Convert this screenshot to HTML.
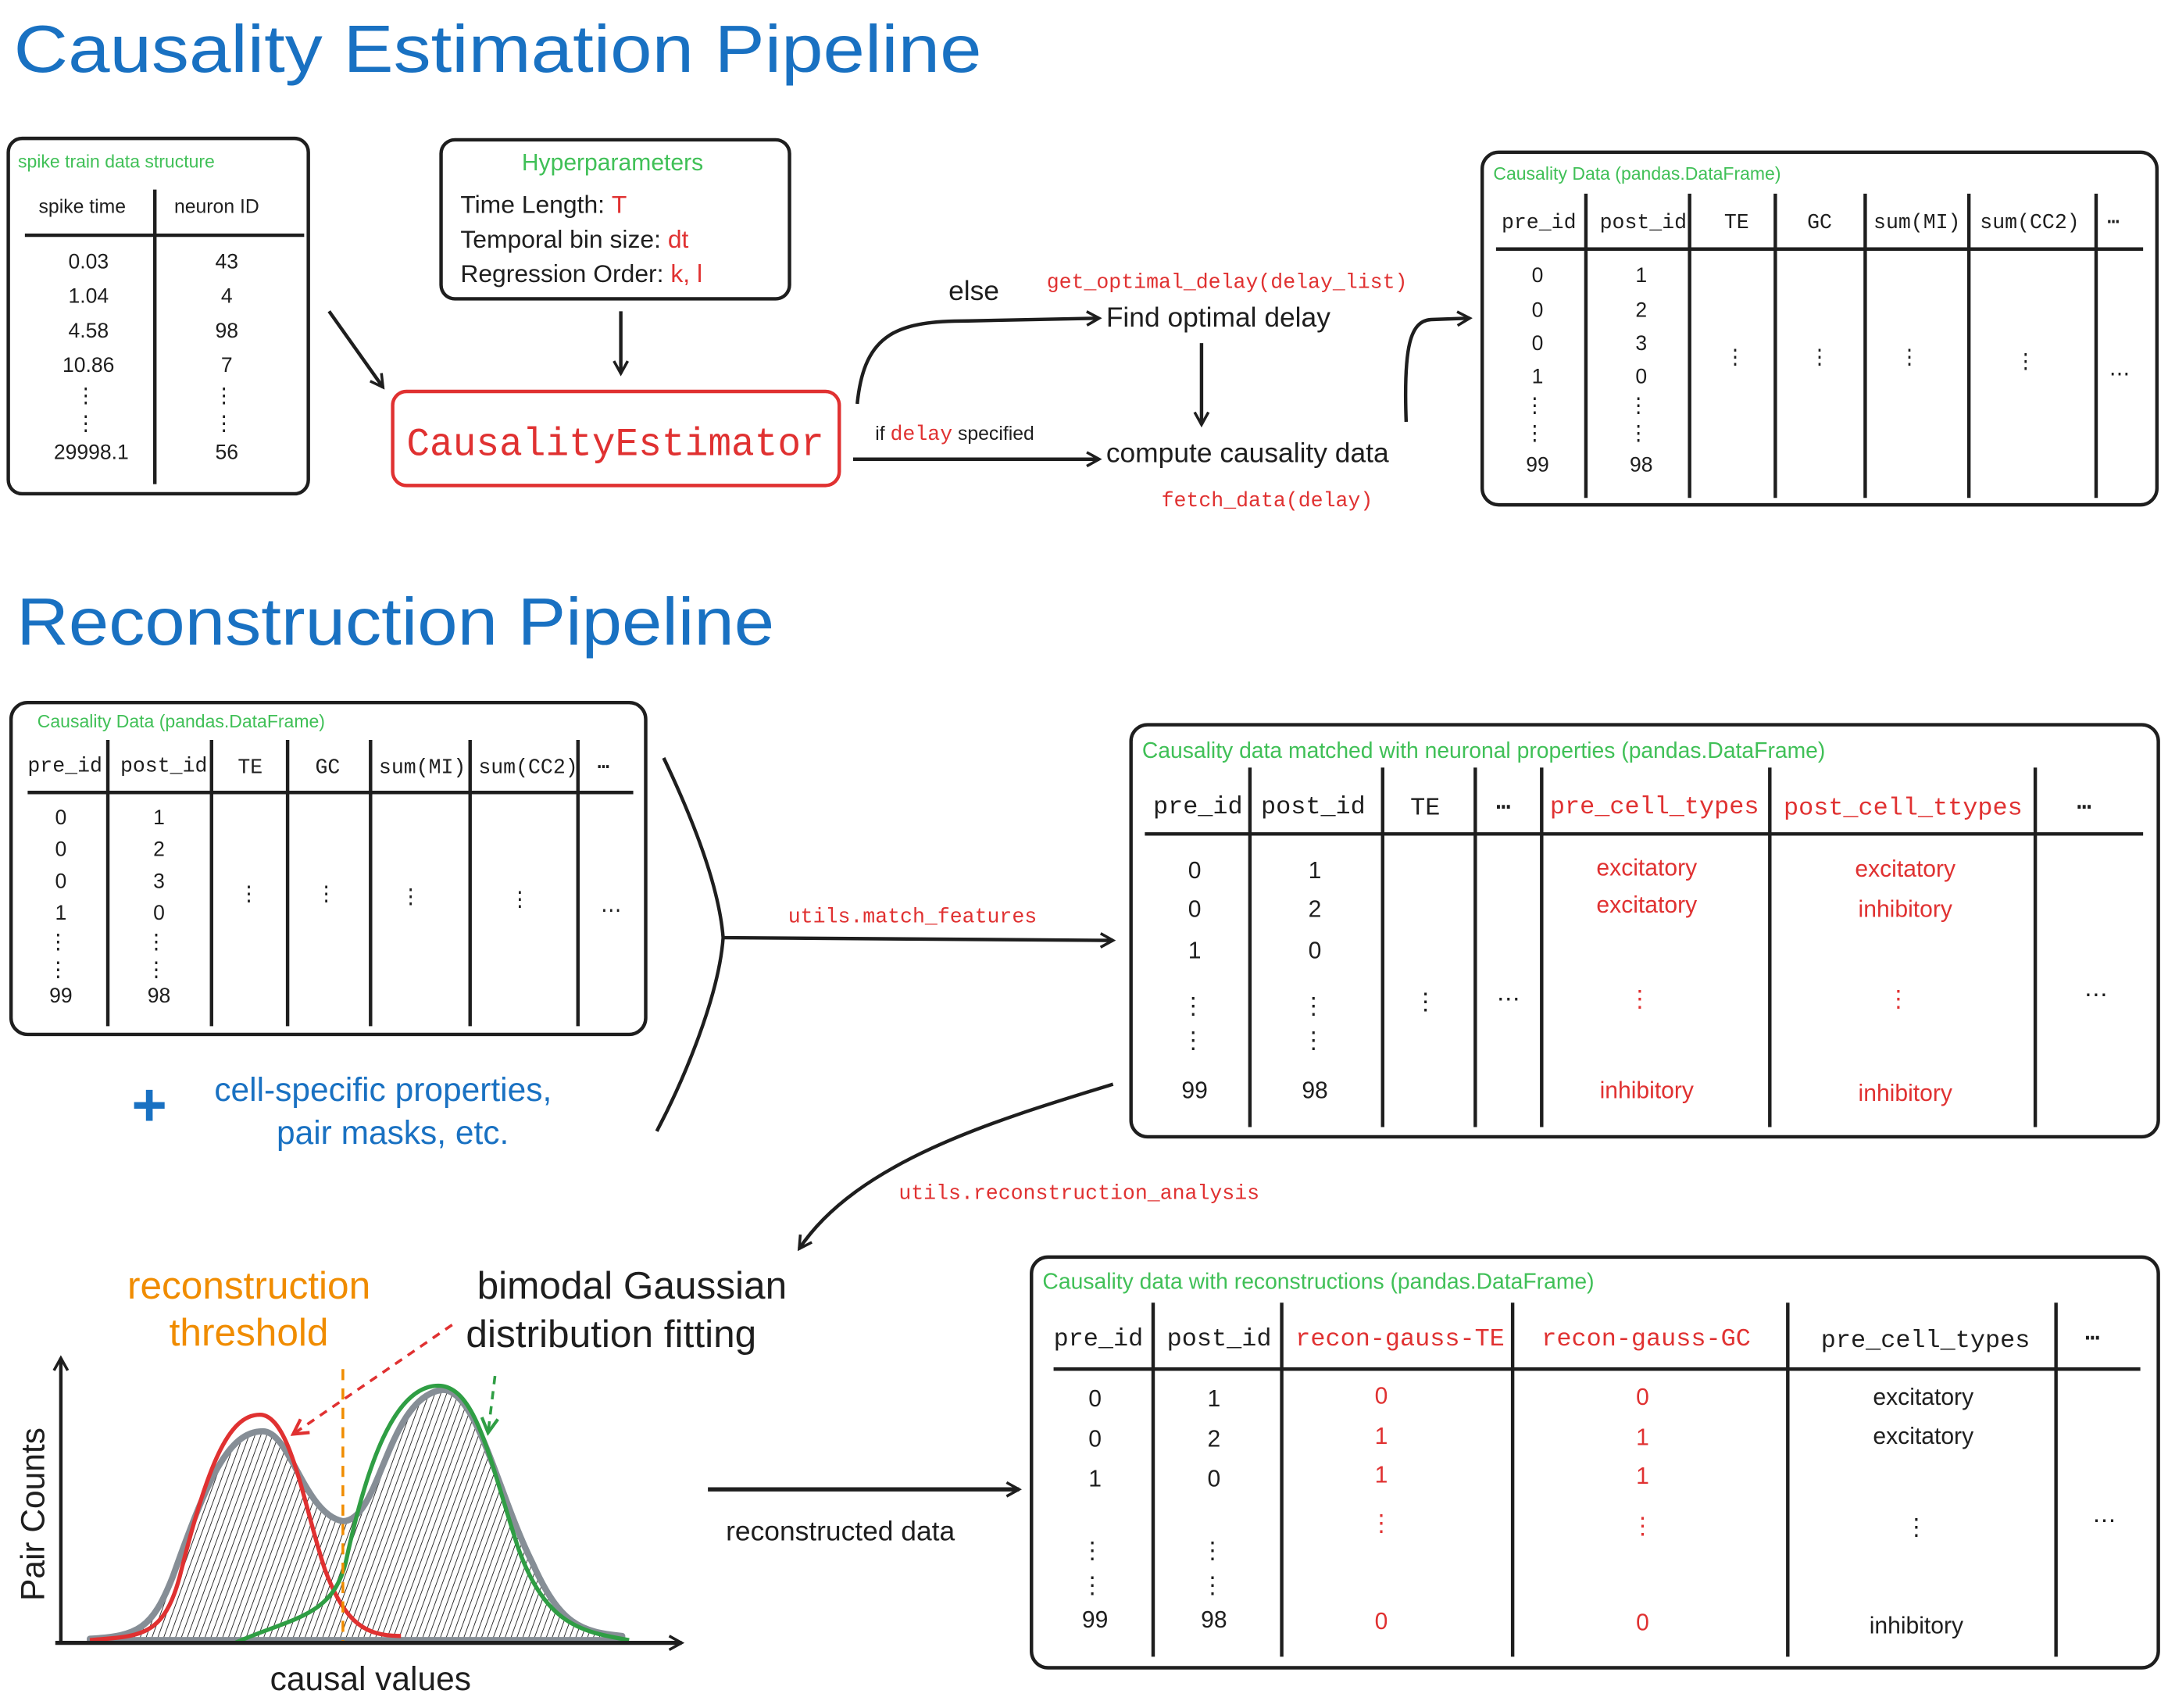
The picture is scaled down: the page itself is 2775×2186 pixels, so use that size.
<!DOCTYPE html>
<html><head><meta charset="utf-8"><style>
html,body{margin:0;padding:0;background:#fff}
svg{display:block}
.h{font-family:"Liberation Sans",sans-serif}
.m{font-family:"Liberation Mono",monospace}
</style></head><body>
<svg width="2775" height="2186" viewBox="0 0 1568 1235" xmlns="http://www.w3.org/2000/svg">
<defs>
<marker id="ar" viewBox="0 0 12 12" refX="10" refY="6" markerWidth="12" markerHeight="12" markerUnits="userSpaceOnUse" orient="auto"><path d="M1,1 L10,6 L1,11" fill="none" stroke="#1e1e1e" stroke-width="2"/></marker>
<marker id="arR" viewBox="0 0 12 12" refX="10" refY="6" markerWidth="14" markerHeight="14" markerUnits="userSpaceOnUse" orient="auto"><path d="M1,1 L10,6 L1,11" fill="none" stroke="#e03131" stroke-width="2"/></marker>
<marker id="arG" viewBox="0 0 12 12" refX="10" refY="6" markerWidth="14" markerHeight="14" markerUnits="userSpaceOnUse" orient="auto"><path d="M1,1 L10,6 L1,11" fill="none" stroke="#2f9e44" stroke-width="2"/></marker>
<pattern id="hatch" width="4" height="4" patternUnits="userSpaceOnUse" patternTransform="rotate(20)"><line x1="0" y1="0" x2="0" y2="4" stroke="#1e1e1e" stroke-width="1"/></pattern>
</defs>
<g fill="#1e1e1e" stroke="none">
<text class="h" x="10" y="52" font-size="48" fill="#1971c2" textLength="700" lengthAdjust="spacingAndGlyphs">Causality Estimation Pipeline</text>
<text class="h" x="12" y="466" font-size="48" fill="#1971c2" textLength="548" lengthAdjust="spacingAndGlyphs">Reconstruction Pipeline</text>
</g>

<g fill="none" stroke="#1e1e1e" stroke-width="2.5">
<rect x="6" y="100" width="217" height="257" rx="10"/>
<line x1="18" y1="170" x2="220" y2="170"/>
<line x1="112" y1="137" x2="112" y2="350"/>
</g>
<g class="h" fill="#1e1e1e">
<text x="13" y="121" font-size="13" fill="#40c057">spike train data structure</text>
<text x="28" y="154" font-size="14">spike time</text>
<text x="126" y="154" font-size="14">neuron ID</text>
<g font-size="15" text-anchor="middle">
<text x="64" y="194">0.03</text><text x="164" y="194">43</text>
<text x="64" y="219">1.04</text><text x="164" y="219">4</text>
<text x="64" y="244">4.58</text><text x="164" y="244">98</text>
<text x="64" y="269">10.86</text><text x="164" y="269">7</text>
<text x="62" y="291">⋮</text><text x="162" y="291">⋮</text>
<text x="62" y="311">⋮</text><text x="162" y="311">⋮</text>
<text x="66" y="332">29998.1</text><text x="164" y="332">56</text>
</g>
</g>

<rect x="319" y="101" width="252" height="115" rx="10" fill="none" stroke="#1e1e1e" stroke-width="2.5"/>
<g class="h" fill="#1e1e1e" font-size="18">
<text x="443" y="123" font-size="17" text-anchor="middle" fill="#40c057">Hyperparameters</text>
<text x="333" y="154">Time Length: <tspan fill="#e03131">T</tspan></text>
<text x="333" y="179">Temporal bin size: <tspan fill="#e03131">dt</tspan></text>
<text x="333" y="204">Regression Order: <tspan fill="#e03131">k, l</tspan></text>
</g>
<g fill="none" stroke="#1e1e1e" stroke-width="2.5">
<line x1="449" y1="225" x2="449" y2="270" marker-end="url(#ar)"/>
<line x1="238" y1="225" x2="277" y2="280" marker-end="url(#ar)"/>
<path d="M620,292 C625,240 650,232 700,232 L795,230" marker-end="url(#ar)"/>
<line x1="869" y1="248" x2="869" y2="307" marker-end="url(#ar)"/>
<line x1="617" y1="332" x2="795" y2="332" marker-end="url(#ar)"/>
<path d="M1017,305 C1015,250 1020,232 1035,231 L1063,230" marker-end="url(#ar)"/>
</g>
<rect x="284" y="283" width="323" height="68" rx="10" fill="none" stroke="#e03131" stroke-width="2.5"/>
<text class="m" x="445" y="329" font-size="29" text-anchor="middle" fill="#e03131" textLength="302" lengthAdjust="spacingAndGlyphs">CausalityEstimator</text>
<g class="h" fill="#1e1e1e">
<text x="686" y="217" font-size="20">else</text>
<text class="m" x="757" y="208" font-size="15" fill="#e03131">get_optimal_delay(delay_list)</text>
<text x="800" y="236" font-size="20">Find optimal delay</text>
<text x="633" y="318" font-size="14">if <tspan class="m" fill="#e03131" font-size="15">delay</tspan> specified</text>
<text x="800" y="334" font-size="20">compute causality data</text>
<text class="m" x="840" y="366" font-size="15" fill="#e03131">fetch_data(delay)</text>
</g>

<g fill="none" stroke="#1e1e1e" stroke-width="2.5">
<rect x="1072" y="110" width="488" height="255" rx="12"/>
<line x1="1082" y1="180" x2="1550" y2="180"/>
<line x1="1147" y1="140" x2="1147" y2="360"/><line x1="1222" y1="140" x2="1222" y2="360"/>
<line x1="1284" y1="140" x2="1284" y2="360"/><line x1="1349" y1="140" x2="1349" y2="360"/>
<line x1="1424" y1="140" x2="1424" y2="360"/><line x1="1516" y1="140" x2="1516" y2="360"/>
</g>
<g class="h" fill="#1e1e1e">
<text x="1080" y="130" font-size="13" fill="#40c057">Causality Data (pandas.DataFrame)</text>
<g class="m" font-size="15"><text x="1086" y="165">pre_id</text><text x="1157" y="165">post_id</text><text x="1247" y="165">TE</text><text x="1307" y="165">GC</text><text x="1355" y="165">sum(MI)</text><text x="1432" y="165">sum(CC2)</text><text x="1524" y="165">⋯</text></g>
<g font-size="15" text-anchor="middle">
<text x="1112" y="204">0</text><text x="1112" y="229">0</text><text x="1112" y="253">0</text><text x="1112" y="277">1</text><text x="1110" y="298">⋮</text><text x="1110" y="318">⋮</text><text x="1112" y="341">99</text>
<text x="1187" y="204">1</text><text x="1187" y="229">2</text><text x="1187" y="253">3</text><text x="1187" y="277">0</text><text x="1185" y="298">⋮</text><text x="1185" y="318">⋮</text><text x="1187" y="341">98</text>
<text x="1255" y="263">⋮</text><text x="1316" y="263">⋮</text><text x="1381" y="263">⋮</text><text x="1465" y="266">⋮</text><text x="1533" y="275">⋯</text>
</g>
</g>

<g fill="none" stroke="#1e1e1e" stroke-width="2.5">
<rect x="8" y="508" width="459" height="240" rx="12"/>
<line x1="20" y1="573" x2="458" y2="573"/>
<line x1="78" y1="535" x2="78" y2="742"/><line x1="153" y1="535" x2="153" y2="742"/>
<line x1="208" y1="535" x2="208" y2="742"/><line x1="268" y1="535" x2="268" y2="742"/>
<line x1="340" y1="535" x2="340" y2="742"/><line x1="418" y1="535" x2="418" y2="742"/>
<path d="M480,548 C500,590 520,640 523,678 C520,720 495,780 475,818"/>
<line x1="523" y1="678" x2="805" y2="680" marker-end="url(#ar)"/>
</g>
<g class="h" fill="#1e1e1e">
<text x="27" y="526" font-size="13" fill="#40c057">Causality Data (pandas.DataFrame)</text>
<g class="m" font-size="15"><text x="20" y="558">pre_id</text><text x="87" y="558">post_id</text><text x="172" y="559">TE</text><text x="228" y="559">GC</text><text x="274" y="559">sum(MI)</text><text x="346" y="559">sum(CC2)</text><text x="432" y="559">⋯</text></g>
<g font-size="15" text-anchor="middle">
<text x="44" y="596">0</text><text x="44" y="619">0</text><text x="44" y="642">0</text><text x="44" y="665">1</text><text x="42" y="686">⋮</text><text x="42" y="706">⋮</text><text x="44" y="725">99</text>
<text x="115" y="596">1</text><text x="115" y="619">2</text><text x="115" y="642">3</text><text x="115" y="665">0</text><text x="113" y="686">⋮</text><text x="113" y="706">⋮</text><text x="115" y="725">98</text>
<text x="180" y="651">⋮</text><text x="236" y="651">⋮</text><text x="297" y="653">⋮</text><text x="376" y="655">⋮</text><text x="442" y="663">⋯</text>
</g>
<text class="m" x="570" y="667" font-size="15" fill="#e03131">utils.match_features</text>
<text x="108" y="814" font-size="44" fill="#1971c2" text-anchor="middle" font-weight="bold">+</text>
<text x="155" y="796" font-size="24" fill="#1971c2">cell-specific properties,</text>
<text x="200" y="827" font-size="24" fill="#1971c2">pair masks, etc.</text>
</g>

<g fill="none" stroke="#1e1e1e" stroke-width="2.5">
<rect x="818" y="524" width="743" height="298" rx="12"/>
<line x1="828" y1="603" x2="1550" y2="603"/>
<line x1="904" y1="555" x2="904" y2="815"/><line x1="1000" y1="555" x2="1000" y2="815"/>
<line x1="1067" y1="555" x2="1067" y2="815"/><line x1="1115" y1="555" x2="1115" y2="815"/>
<line x1="1280" y1="555" x2="1280" y2="815"/><line x1="1472" y1="555" x2="1472" y2="815"/>
<path d="M805,784 C720,810 620,840 578,903" marker-end="url(#ar)"/>
</g>
<g class="h" fill="#1e1e1e">
<text x="826" y="548" font-size="16" fill="#40c057">Causality data matched with neuronal properties (pandas.DataFrame)</text>
<g class="m" font-size="18"><text x="834" y="588">pre_id</text><text x="912" y="588">post_id</text><text x="1020" y="589">TE</text><text x="1082" y="589">⋯</text><text x="1121" y="588" fill="#e03131">pre_cell_types</text><text x="1290" y="589" fill="#e03131">post_cell_ttypes</text><text x="1502" y="589">⋯</text></g>
<g font-size="17" text-anchor="middle">
<text x="864" y="635">0</text><text x="864" y="663">0</text><text x="864" y="693">1</text><text x="863" y="733">⋮</text><text x="863" y="758">⋮</text><text x="864" y="794">99</text>
<text x="951" y="635">1</text><text x="951" y="663">2</text><text x="951" y="693">0</text><text x="950" y="733">⋮</text><text x="950" y="758">⋮</text><text x="951" y="794">98</text>
<text x="1031" y="730">⋮</text><text x="1091" y="728">⋯</text><text x="1516" y="725">⋯</text>
<g fill="#e03131">
<text x="1191" y="633">excitatory</text><text x="1191" y="660">excitatory</text><text x="1186" y="728">⋮</text><text x="1191" y="794">inhibitory</text>
<text x="1378" y="634">excitatory</text><text x="1378" y="663">inhibitory</text><text x="1373" y="728">⋮</text><text x="1378" y="796">inhibitory</text>
</g>
</g>
<text class="m" x="650" y="867" font-size="15" fill="#e03131">utils.reconstruction_analysis</text>
</g>

<path d="M65,1185 C100,1183 110,1178 125,1140 C150,1070 165,1035 190,1035 C210,1035 220,1095 248,1100 C275,1100 280,1010 320,1005 C345,1005 360,1080 385,1130 C405,1175 420,1180 450,1183 L450,1186 L65,1186 Z" fill="url(#hatch)" stroke="#868e96" stroke-width="4.5" stroke-linejoin="round"/>
<path d="M65,1186 C100,1183 118,1185 130,1140 C150,1060 165,1023 188,1023 C210,1023 220,1090 235,1135 C250,1175 265,1183 290,1183" fill="none" stroke="#e03131" stroke-width="3"/>
<path d="M170,1188 C210,1170 240,1170 250,1130 C265,1060 285,1002 317,1002 C345,1002 355,1060 375,1120 C395,1175 420,1180 455,1186" fill="none" stroke="#2f9e44" stroke-width="3"/>
<g fill="none" stroke-width="2.5">
<line x1="248" y1="990" x2="248" y2="1188" stroke="#f08c00" stroke-dasharray="8 6" stroke-width="2"/>
<line x1="327" y1="958" x2="212" y2="1037" stroke="#e03131" stroke-dasharray="6 5" stroke-width="2" marker-end="url(#arR)"/>
<line x1="358" y1="995" x2="353" y2="1036" stroke="#2f9e44" stroke-dasharray="6 5" stroke-width="2" marker-end="url(#arG)"/>
<line x1="44" y1="1188" x2="44" y2="982" stroke="#1e1e1e" marker-end="url(#ar)"/>
<line x1="40" y1="1188" x2="493" y2="1188" stroke="#1e1e1e" stroke-width="3" marker-end="url(#ar)"/>
<line x1="512" y1="1077" x2="737" y2="1077" stroke="#1e1e1e" stroke-width="3" marker-end="url(#ar)"/>
</g>
<g class="h" fill="#1e1e1e">
<text x="180" y="939" font-size="28" fill="#f08c00" text-anchor="middle">reconstruction</text>
<text x="180" y="973" font-size="28" fill="#f08c00" text-anchor="middle">threshold</text>
<text x="345" y="939" font-size="28">bimodal Gaussian</text>
<text x="337" y="974" font-size="28">distribution fitting</text>
<text x="0" y="0" font-size="24" transform="translate(32,1095) rotate(-90)" text-anchor="middle">Pair Counts</text>
<text x="268" y="1222" font-size="24" text-anchor="middle">causal values</text>
<text x="525" y="1114" font-size="20">reconstructed data</text>
</g>

<g fill="none" stroke="#1e1e1e" stroke-width="2.5">
<rect x="746" y="909" width="815" height="297" rx="12"/>
<line x1="762" y1="990" x2="1548" y2="990"/>
<line x1="834" y1="942" x2="834" y2="1198"/><line x1="927" y1="942" x2="927" y2="1198"/>
<line x1="1094" y1="942" x2="1094" y2="1198"/><line x1="1293" y1="942" x2="1293" y2="1198"/>
<line x1="1487" y1="942" x2="1487" y2="1198"/>
</g>
<g class="h" fill="#1e1e1e">
<text x="754" y="932" font-size="16" fill="#40c057">Causality data with reconstructions (pandas.DataFrame)</text>
<g class="m" font-size="18"><text x="762" y="973">pre_id</text><text x="844" y="973">post_id</text><text x="937" y="973" fill="#e03131">recon-gauss-TE</text><text x="1115" y="973" fill="#e03131">recon-gauss-GC</text><text x="1317" y="974">pre_cell_types</text><text x="1508" y="973">⋯</text></g>
<g font-size="17" text-anchor="middle">
<text x="792" y="1017">0</text><text x="792" y="1046">0</text><text x="792" y="1075">1</text><text x="790" y="1127">⋮</text><text x="790" y="1152">⋮</text><text x="792" y="1177">99</text>
<text x="878" y="1017">1</text><text x="878" y="1046">2</text><text x="878" y="1075">0</text><text x="877" y="1127">⋮</text><text x="877" y="1152">⋮</text><text x="878" y="1177">98</text>
<g fill="#e03131">
<text x="999" y="1015">0</text><text x="999" y="1044">1</text><text x="999" y="1072">1</text><text x="999" y="1107">⋮</text><text x="999" y="1178">0</text>
<text x="1188" y="1016">0</text><text x="1188" y="1045">1</text><text x="1188" y="1073">1</text><text x="1188" y="1109">⋮</text><text x="1188" y="1179">0</text>
</g>
<text x="1391" y="1016">excitatory</text><text x="1391" y="1044">excitatory</text><text x="1386" y="1110">⋮</text><text x="1386" y="1181">inhibitory</text>
<text x="1522" y="1105">⋯</text>
</g>
</g>
</svg>
</body></html>
